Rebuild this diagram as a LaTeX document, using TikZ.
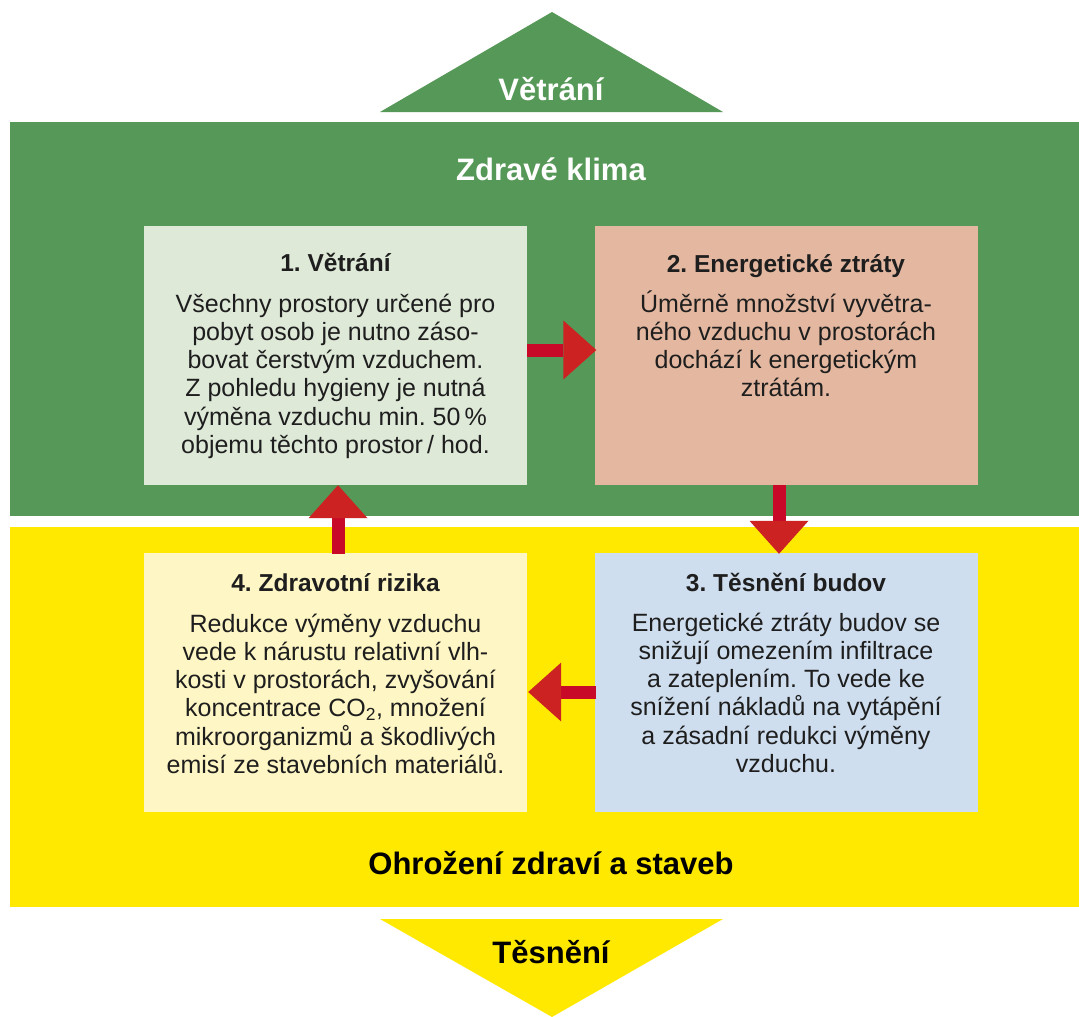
\documentclass[tikz,border=0pt]{standalone}
\usepackage{fontspec}
\setmainfont{Liberation Sans}
\usetikzlibrary{arrows.meta}
\frenchspacing
\definecolor{bandgreen}{RGB}{86,152,87}
\definecolor{bandyellow}{RGB}{255,233,0}
\definecolor{boxone}{RGB}{222,233,216}
\definecolor{boxtwo}{RGB}{228,184,160}
\definecolor{boxthree}{RGB}{207,222,238}
\definecolor{boxfour}{RGB}{254,246,196}
\definecolor{shaftred}{RGB}{200,10,40}
\definecolor{headred}{RGB}{204,34,34}
\definecolor{txt}{RGB}{30,30,30}
\newcommand\bodytxt[1]{\vtop{\hsize=375pt\centering\frenchspacing\fontsize{25}{28.3}\selectfont #1\par}}
\tikzset{
  panel/.style={draw=none, inner sep=0pt, minimum width=383pt, minimum height=259pt},
  ptitle/.style={anchor=base, inner sep=0pt, text=txt, font=\frenchspacing\fontsize{24.5}{28}\selectfont\bfseries},
  pbody/.style={anchor=base, inner sep=0pt, text=txt},
  bandtitle/.style={anchor=base, inner sep=0pt, font=\fontsize{31}{34}\selectfont\bfseries},
  flow/.style={draw=shaftred, line width=13pt,
    -{Triangle[length=33pt 0 0, width=59pt 0 0, color=headred, line width=0pt 0 0]}},
}
\begin{document}
\begin{tikzpicture}[x=1pt, y=-1pt]
\useasboundingbox (0,0) rectangle (1079,1017);
\fill[white] (0,0) rectangle (1079,1017);
% bands
\fill[bandgreen] (380,112) -- (723,112) -- (552,12) -- cycle;
\fill[bandgreen] (10,122) rectangle (1079,516);
\fill[bandyellow] (10,527) rectangle (1079,907);
\fill[bandyellow] (380,919) -- (723,919) -- (552,1017) -- cycle;
\node[bandtitle, text=white] (ttop) at (551,100) {Větrání};
\node[bandtitle, text=white] (tgreen) at (551,180) {Zdravé klima};
\node[bandtitle, text=black] (tyellow) at (551,874) {Ohrožení zdraví a staveb};
\node[bandtitle, text=black] (tbottom) at (551,963) {Těsnění};
% panels
\node[panel, fill=boxone] (b1) at (335.5,355.5) {};
\node[panel, fill=boxtwo] (b2) at (786,355.5) {};
\node[panel, fill=boxthree] (b3) at (786,682.5) {};
\node[panel, fill=boxfour] (b4) at (335.5,682.5) {};
% panel texts
\node[ptitle] (h1) at (335.5,271) {1. Větrání};
\node[pbody] (x1) at (335.5,312) {\bodytxt{Všechny prostory určené pro\\pobyt osob je nutno záso-\\bovat čerstvým vzduchem.\\Z pohledu hygieny je nutná\\výměna vzduchu min. 50\,\%\\objemu těchto prostor\,/ hod.}};
\node[ptitle] (h2) at (786,272) {2. Energetické ztráty};
\node[pbody] (x2) at (786,312) {\bodytxt{Úměrně množství vyvětra-\\ného vzduchu v prostorách\\dochází k energetickým\\ztrátám.}};
\node[ptitle] (h3) at (786,591) {3. Těsnění budov};
\node[pbody] (x3) at (786,631) {\bodytxt{Energetické ztráty budov se\\snižují omezením infiltrace\\a zateplením. To vede ke\\snížení nákladů na vytápění\\a zásadní redukci výměny\\vzduchu.}};
\node[ptitle] (h4) at (335.5,591) {4. Zdravotní rizika};
\node[pbody] (x4) at (335.5,632) {\bodytxt{Redukce výměny vzduchu\\vede k nárustu relativní vlh-\\kosti v prostorách, zvyšování\\koncentrace CO\textsubscript{2}, množení\\mikroorganizmů a škodlivých\\emisí ze stavebních materiálů.}};
% arrows
\draw[flow] ([yshift=5.5pt]b1.east) -- ([yshift=5.5pt,xshift=2pt]b2.west);
\draw[flow] ([xshift=-7pt]b2.south) -- ([xshift=-7pt,yshift=-1pt]b3.north);
\draw[flow] ([yshift=-9.5pt,xshift=2pt]b3.west) -- ([yshift=-9.5pt,xshift=1pt]b4.east);
\draw[flow] ([xshift=2.5pt,yshift=-1pt]b4.north) -- ([xshift=2.5pt]b1.south);
\end{tikzpicture}
\end{document}
